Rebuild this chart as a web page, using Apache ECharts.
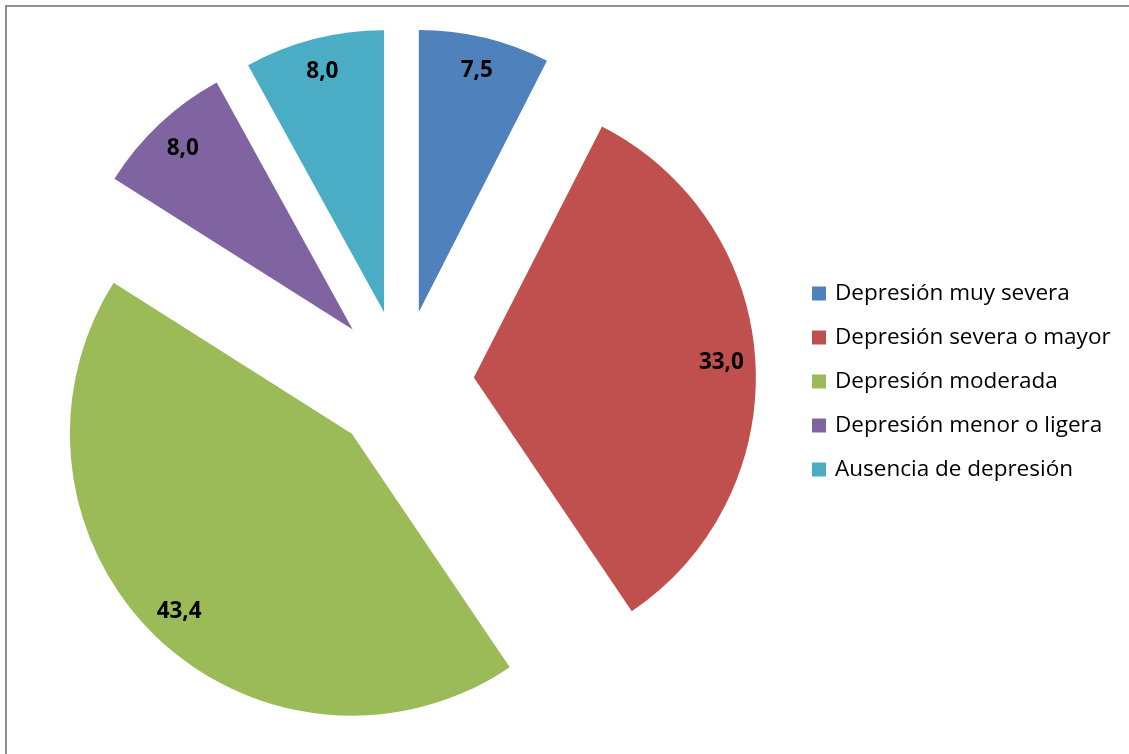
<!DOCTYPE html>
<html>
<head>
<meta charset="utf-8">
<script src="https://cdn.jsdelivr.net/npm/echarts@6/dist/echarts.min.js"></script>
<style>
  html, body { margin: 0; padding: 0; background: #ffffff; }
  #chart { width: 1129px; height: 754px; }
</style>
</head>
<body>
<div id="chart"></div>
<script>
// Niveles de depresión (%)
const categories = [
  'Depresión muy severa',
  'Depresión severa o mayor',
  'Depresión moderada',
  'Depresión menor o ligera',
  'Ausencia de depresión'
];
const values = [7.5, 33.0, 43.4, 8.0, 8.0];
const colors = ['#4F81BD', '#C0504D', '#9BBB59', '#8064A2', '#4BACC6'];

const fontFamily = '"Open Sans", "Noto Sans", sans-serif';
const center = [402, 382];
const explode = 72;

const sliceData = categories.map((name, i) => ({
  name: name,
  value: values[i],
  selected: true,
  itemStyle: { color: colors[i] }
}));

// Transparent ring used only to place the value labels near the outer edge
const labelData = categories.map((name, i) => ({
  name: name,
  value: values[i],
  selected: true,
  itemStyle: { color: 'rgba(0,0,0,0)' }
}));

const chart = echarts.init(document.getElementById('chart'), null, { renderer: 'canvas' });
chart.setOption({
  backgroundColor: '#ffffff',
  animation: false,
  color: colors,
  graphic: [{
    type: 'rect',
    shape: { x: 6, y: 6, width: 1200, height: 800 },
    style: { fill: 'none', stroke: '#8e8e8e', lineWidth: 2 },
    silent: true
  }],
  legend: {
    orient: 'vertical',
    left: 812,
    top: 282,
    padding: 0,
    itemWidth: 14,
    itemHeight: 14,
    itemGap: 21,
    icon: 'rect',
    textStyle: {
      fontFamily: fontFamily,
      fontSize: 22.5,
      lineHeight: 22,
      color: '#000000',
      padding: [0, 0, 0, 4]
    },
    data: categories,
    selectedMode: false
  },
  series: [
    {
      type: 'pie',
      center: center,
      radius: [0, 282],
      startAngle: 90,
      clockwise: true,
      selectedMode: 'multiple',
      selectedOffset: explode,
      avoidLabelOverlap: false,
      silent: true,
      label: { show: false },
      labelLine: { show: false },
      itemStyle: { borderWidth: 0 },
      data: sliceData
    },
    {
      type: 'pie',
      center: center,
      radius: [208, 282],
      startAngle: 90,
      clockwise: true,
      selectedMode: 'multiple',
      selectedOffset: explode,
      avoidLabelOverlap: false,
      silent: true,
      legendHoverLink: false,
      label: {
        show: true,
        position: 'inside',
        fontFamily: fontFamily,
        fontSize: 22.5,
        fontWeight: 'bold',
        color: '#000000',
        formatter: p => p.value.toFixed(1).replace('.', ',')
      },
      labelLine: { show: false },
      itemStyle: { borderWidth: 0 },
      data: labelData
    }
  ]
});
</script>
</body>
</html>
